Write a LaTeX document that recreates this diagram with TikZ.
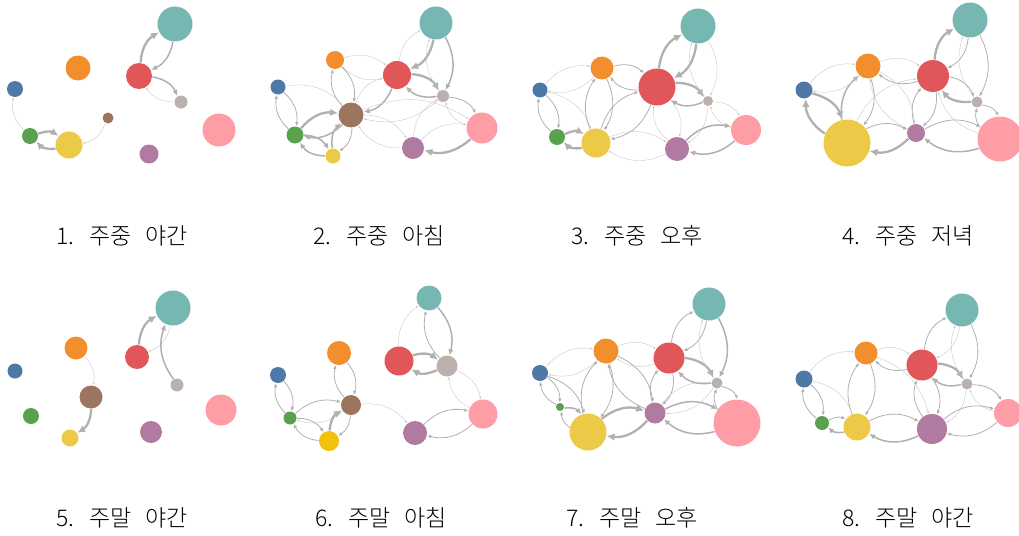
\documentclass[tikz,border=0pt]{standalone}
\usepackage{fontspec}
\newfontfamily\kr{Noto Sans CJK KR Light}[WordSpace=2.7]
\usetikzlibrary{arrows.meta,backgrounds}
\definecolor{cteal}{HTML}{76B7B2}
\definecolor{corange}{HTML}{F28E2B}
\definecolor{cred}{HTML}{E15759}
\definecolor{cblue}{HTML}{4E79A7}
\definecolor{cgray}{HTML}{BAB0AC}
\definecolor{cbrown}{HTML}{9C755F}
\definecolor{cpink}{HTML}{FF9DA7}
\definecolor{cgreen}{HTML}{59A14F}
\definecolor{cpurple}{HTML}{B07AA1}
\definecolor{cyellow}{HTML}{EDC948}
\definecolor{cgold}{HTML}{F0C20C}
\definecolor{clink}{HTML}{B0B0B0}
\begin{document}
\begin{tikzpicture}[x=1pt, y=-1pt,
    dot/.style={circle, inner sep=0pt, outer sep=0.5pt, draw=none},
    nteal/.style={dot, fill=cteal},
    norange/.style={dot, fill=corange},
    nred/.style={dot, fill=cred},
    nblue/.style={dot, fill=cblue},
    ngray/.style={dot, fill=cgray},
    nbrown/.style={dot, fill=cbrown},
    npink/.style={dot, fill=cpink},
    ngreen/.style={dot, fill=cgreen},
    npurple/.style={dot, fill=cpurple},
    nyellow/.style={dot, fill=cyellow},
    e0/.style={draw=clink!70, line width=0.4pt, -{Latex[length=2.5pt,width=2pt]}, bend left=28},
    e1/.style={draw=clink, line width=0.8pt, -{Latex[length=4pt,width=3.5pt]}, bend left=28},
    e2/.style={draw=clink, line width=1.5pt, -{Latex[length=6pt,width=5.5pt]}, bend left=28},
    e3/.style={draw=clink, line width=2.3pt, -{Latex[length=8pt,width=7.5pt]}, bend left=28},
    lbl/.style={font=\kr\fontsize{23}{27}\selectfont}
]
\useasboundingbox (0,0) rectangle (1019,535);

% 1. weekday night
\node[nteal, minimum size=35] (p1te) at (175,24) {};
\node[norange, minimum size=25] (p1or) at (78,68) {};
\node[nred, minimum size=26] (p1re) at (139,76) {};
\node[nblue, minimum size=16] (p1bl) at (15,89) {};
\node[ngray, minimum size=13] (p1gy) at (181,102) {};
\node[nbrown, minimum size=11] (p1br) at (108,118) {};
\node[ngreen, minimum size=16] (p1gn) at (30,136) {};
\node[nyellow, minimum size=27] (p1ye) at (69,145) {};
\node[npink, minimum size=33] (p1pk) at (219,130) {};
\node[npurple, minimum size=19] (p1pu) at (149,154) {};
\node[lbl] (t1) at (122,236) {1. 주중 야간};

% 2. weekday morning
\node[nteal, minimum size=33] (p2te) at (436,23) {};
\node[norange, minimum size=18] (p2or) at (335,60) {};
\node[nred, minimum size=28] (p2re) at (397,75) {};
\node[nblue, minimum size=15] (p2bl) at (278,87) {};
\node[ngray, minimum size=12] (p2gy) at (443,96) {};
\node[nbrown, minimum size=25] (p2br) at (351,115) {};
\node[npink, minimum size=31] (p2pk) at (482,128) {};
\node[ngreen, minimum size=17] (p2gn) at (295,135) {};
\node[npurple, minimum size=22] (p2pu) at (413,148) {};
\node[nyellow, minimum size=15] (p2ye) at (333,156) {};
\node[lbl] (t2) at (379,236) {2. 주중 아침};

% 3. weekday afternoon
\node[nteal, minimum size=35] (p3te) at (698,26) {};
\node[norange, minimum size=23] (p3or) at (602,68) {};
\node[nred, minimum size=37] (p3re) at (657,87) {};
\node[nblue, minimum size=15] (p3bl) at (540,90) {};
\node[ngray, minimum size=10] (p3gy) at (708,101) {};
\node[npink, minimum size=30] (p3pk) at (746,130) {};
\node[ngreen, minimum size=16] (p3gn) at (557,137) {};
\node[nyellow, minimum size=29] (p3ye) at (596,143) {};
\node[npurple, minimum size=24] (p3pu) at (677,149) {};
\node[lbl] (t3) at (637,236) {3. 주중 오후};

% 4. weekday evening
\node[nteal, minimum size=35] (p4te) at (970,20) {};
\node[norange, minimum size=25] (p4or) at (868,66) {};
\node[nred, minimum size=32] (p4re) at (933,76) {};
\node[nblue, minimum size=17] (p4bl) at (804,90) {};
\node[ngray, minimum size=11] (p4gy) at (977,102) {};
\node[npurple, minimum size=18] (p4pu) at (916,133) {};
\node[nyellow, minimum size=47] (p4ye) at (847,143) {};
\node[npink, minimum size=45] (p4pk) at (1000,139) {};
\node[lbl] (t4) at (908,236) {4. 주중 저녁};

% 5. weekend night
\node[nteal, minimum size=35] (p5te) at (173,308) {};
\node[norange, minimum size=23] (p5or) at (76,348) {};
\node[nred, minimum size=24] (p5re) at (137,357) {};
\node[nblue, minimum size=15] (p5bl) at (15,371) {};
\node[ngray, minimum size=13] (p5gy) at (177,385) {};
\node[nbrown, minimum size=23] (p5br) at (91,397) {};
\node[npink, minimum size=31] (p5pk) at (221,410) {};
\node[ngreen, minimum size=16] (p5gn) at (31,416) {};
\node[npurple, minimum size=22] (p5pu) at (151,432) {};
\node[nyellow, minimum size=17] (p5ye) at (70,438) {};
\node[lbl] (t5) at (122,518) {5. 주말 야간};

% 6. weekend morning
\node[nteal, minimum size=25] (p6te) at (429,298) {};
\node[norange, minimum size=24] (p6or) at (339,353) {};
\node[nred, minimum size=29] (p6re) at (399,361) {};
\node[ngray, minimum size=21] (p6gy) at (447,366) {};
\node[nblue, minimum size=16] (p6bl) at (278,375) {};
\node[nbrown, minimum size=20] (p6br) at (351,405) {};
\node[npink, minimum size=29] (p6pk) at (483,414) {};
\node[ngreen, minimum size=13] (p6gn) at (290,418) {};
\node[npurple, minimum size=24] (p6pu) at (415,433) {};
\node[dot, fill=cgold, minimum size=20] (p6ye) at (329,441) {};
\node[lbl] (t6) at (381,518) {6. 주말 아침};

% 7. weekend afternoon
\node[nteal, minimum size=33] (p7te) at (709,304) {};
\node[norange, minimum size=25] (p7or) at (606,351) {};
\node[nred, minimum size=31] (p7re) at (669,358) {};
\node[nblue, minimum size=16] (p7bl) at (540,373) {};
\node[ngray, minimum size=11] (p7gy) at (717,383) {};
\node[ngreen, minimum size=8] (p7gn) at (560,407) {};
\node[npurple, minimum size=21] (p7pu) at (655,413) {};
\node[npink, minimum size=47] (p7pk) at (737,423) {};
\node[nyellow, minimum size=37] (p7ye) at (588,432) {};
\node[lbl] (t7) at (632,518) {7. 주말 오후};

% 8. weekend night
\node[nteal, minimum size=33] (p8te) at (962,310) {};
\node[norange, minimum size=23] (p8or) at (866,353) {};
\node[nred, minimum size=31] (p8re) at (922,365) {};
\node[nblue, minimum size=17] (p8bl) at (804,379) {};
\node[ngray, minimum size=11] (p8gy) at (967,384) {};
\node[npink, minimum size=28] (p8pk) at (1008,413) {};
\node[ngreen, minimum size=14] (p8gn) at (822,423) {};
\node[nyellow, minimum size=27] (p8ye) at (857,427) {};
\node[npurple, minimum size=30] (p8pu) at (932,429) {};
\node[lbl] (t8) at (908,518) {8. 주말 야간};

\begin{scope}[on background layer]
% links, panel 1
\path (p1re) edge[e3] (p1te) edge[e2] (p1gy);
\path (p1te) edge[e2] (p1re);
\path (p1gy) edge[e0] (p1re);
\path (p1gn) edge[e0] (p1bl) edge[e3] (p1ye);
\path (p1ye) edge[e3] (p1gn);
\path (p1br) edge[e0] (p1ye);
% panel 2
\path (p2re) edge[e0] (p2te) edge[e3] (p2gy) edge[e2] (p2br) edge[e0] (p2or);
\path (p2te) edge[e3] (p2re) edge[e2] (p2gy);
\path (p2gy) edge[e0] (p2te) edge[e2] (p2re) edge[e1] (p2pk) edge[e0] (p2br);
\path (p2pk) edge[e0] (p2gy) edge[e3] (p2pu);
\path (p2pu) edge[e0] (p2pk) edge[e0] (p2gy) edge[e0] (p2br);
\path (p2br) edge[e0] (p2re) edge[e1] (p2or) edge[e2] (p2gn) edge[e1] (p2ye) edge[e0] (p2pu) edge[e0] (p2pk);
\path (p2or) edge[e1] (p2br) edge[e0] (p2re);
\path (p2bl) edge[e0] (p2br) edge[e1] (p2gn);
\path (p2gn) edge[e3] (p2br) edge[e1] (p2bl) edge[e2] (p2ye);
\path (p2ye) edge[e2] (p2gn) edge[e2] (p2br);
% panel 3
\path (p3re) edge[e3] (p3te) edge[e3] (p3gy) edge[e1] (p3or) edge[e1] (p3ye) edge[e0] (p3pu);
\path (p3te) edge[e3] (p3re) edge[e0] (p3gy);
\path (p3gy) edge[e0] (p3te) edge[e2] (p3re) edge[e0] (p3pk) edge[e0] (p3pu);
\path (p3pk) edge[e0] (p3gy) edge[e2] (p3pu);
\path (p3pu) edge[e2] (p3pk) edge[e0] (p3ye) edge[e0] (p3re);
\path (p3or) edge[e1] (p3re) edge[e0] (p3bl) edge[e1] (p3ye);
\path (p3bl) edge[e0] (p3or) edge[e1] (p3gn) edge[e0] (p3ye);
\path (p3gn) edge[e1] (p3bl) edge[e3] (p3ye);
\path (p3ye) edge[e3] (p3gn) edge[e1] (p3or) edge[e1] (p3re) edge[e0] (p3pu);
% panel 4
\path (p4re) edge[e3] (p4te) edge[e1] (p4gy) edge[e1] (p4or) edge[e1] (p4pu);
\path (p4te) edge[e1] (p4re) edge[e1] (p4gy);
\path (p4gy) edge[e0] (p4te) edge[e3] (p4re) edge[e1] (p4pk);
\path (p4pk) edge[e1] (p4gy) edge[e2] (p4pu) edge[e0] (p4re);
\path (p4pu) edge[e1] (p4pk) edge[e3] (p4ye) edge[e1] (p4re) edge[e0] (p4or);
\path (p4ye) edge[e1] (p4pu) edge[e3] (p4bl) edge[e2] (p4or) edge[e0] (p4re);
\path (p4bl) edge[e3] (p4ye) edge[e0] (p4or);
\path (p4or) edge[e0] (p4bl) edge[e1] (p4ye) edge[e0] (p4re) edge[e0] (p4pu);
% panel 5
\path (p5re) edge[e3] (p5te);
\path (p5te) edge[e0] (p5re);
\path (p5gy) edge[e2] (p5te);
\path (p5or) edge[e0] (p5br);
\path (p5br) edge[e3] (p5ye);
% panel 6
\path (p6re) edge[e0] (p6te) edge[e3] (p6gy);
\path (p6te) edge[e2] (p6gy);
\path (p6gy) edge[e1] (p6te) edge[e3] (p6re) edge[e0] (p6pk);
\path (p6pk) edge[e0] (p6gy) edge[e1] (p6pu);
\path (p6pu) edge[e1] (p6pk);
\path (p6br) edge[e0] (p6pu) edge[e1] (p6or) edge[e0] (p6gn) edge[e1] (p6ye);
\path (p6or) edge[e1] (p6br);
\path (p6bl) edge[e1] (p6gn);
\path (p6gn) edge[e1] (p6bl) edge[e1] (p6br) edge[e1] (p6ye);
\path (p6ye) edge[e1] (p6gn) edge[e3] (p6br);
% panel 7
\path (p7re) edge[e1] (p7te) edge[e3] (p7gy) edge[e0] (p7or) edge[e1] (p7pu);
\path (p7te) edge[e1] (p7re) edge[e2] (p7gy);
\path (p7gy) edge[e0] (p7te) edge[e2] (p7re) edge[e1] (p7pk) edge[e0] (p7pu);
\path (p7pk) edge[e1] (p7gy) edge[e2] (p7pu);
\path (p7pu) edge[e2] (p7pk) edge[e3] (p7ye) edge[e1] (p7or) edge[e1] (p7re) edge[e0] (p7gy);
\path (p7ye) edge[e3] (p7pu) edge[e1] (p7or) edge[e1] (p7gn);
\path (p7or) edge[e0] (p7re) edge[e0] (p7bl) edge[e1] (p7ye) edge[e1] (p7pu);
\path (p7bl) edge[e0] (p7or) edge[e1] (p7gn) edge[e1] (p7ye);
\path (p7gn) edge[e1] (p7bl) edge[e2] (p7ye);
% panel 8
\path (p8re) edge[e1] (p8te) edge[e3] (p8gy) edge[e1] (p8or) edge[e1] (p8pu);
\path (p8te) edge[e0] (p8re) edge[e1] (p8gy);
\path (p8gy) edge[e0] (p8te) edge[e2] (p8re) edge[e1] (p8pk) edge[e0] (p8pu);
\path (p8pk) edge[e0] (p8gy) edge[e1] (p8pu);
\path (p8pu) edge[e1] (p8pk) edge[e2] (p8ye) edge[e1] (p8re);
\path (p8ye) edge[e1] (p8pu) edge[e1] (p8or) edge[e2] (p8gn);
\path (p8or) edge[e0] (p8re) edge[e1] (p8ye) edge[e0] (p8pu);
\path (p8bl) edge[e0] (p8or) edge[e1] (p8gn) edge[e0] (p8ye);
\path (p8gn) edge[e1] (p8bl) edge[e1] (p8ye);
\end{scope}
\end{tikzpicture}
\end{document}
